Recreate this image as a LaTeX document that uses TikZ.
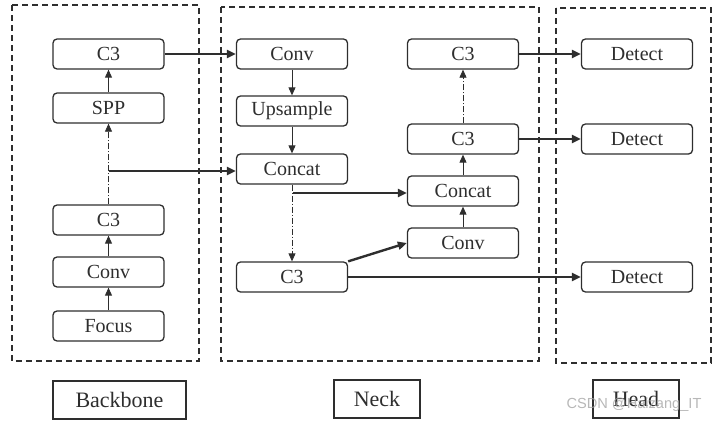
\documentclass[tikz,border=0pt]{standalone}
\usepackage{fontspec}
\setmainfont{Liberation Serif}
\newfontfamily\wmfont{Liberation Sans}
\usetikzlibrary{arrows.meta}
\definecolor{ink}{HTML}{2E2E2E}
\tikzset{
  blk/.style={draw=ink, line width=1.3pt, rounded corners=4pt, minimum width=111pt, minimum height=30pt, inner sep=0pt, text=ink, font=\fontsize{20}{24}\selectfont},
  lbl/.style={draw=ink, line width=1.2pt, minimum height=38pt, inner sep=0pt, text=ink, font=\fontsize{22}{26}\selectfont},
  region/.style={draw=ink, line width=1.3pt, dash pattern=on 6pt off 4pt},
  thin/.style={draw=ink, line width=0.9pt, -{Triangle[length=8pt,width=7pt]}},
  thick/.style={draw=ink, line width=2.4pt, -{Triangle[length=9pt,width=8pt]}},
  dd/.style={draw=ink, line width=0.8pt, dash pattern=on 6pt off 2pt on 1pt off 2pt, -{Triangle[length=8pt,width=7pt]}},
  ddn/.style={draw=ink, line width=0.8pt, dash pattern=on 6pt off 2pt on 1pt off 2pt}
}
\begin{document}
\begin{tikzpicture}[x=1pt,y=-1pt]
\useasboundingbox (0,0) rectangle (718,423);
% regions
\draw[region] (12,5) rectangle (199,361);
\draw[region] (221,7) rectangle (539,361);
\draw[region] (556,8) rectangle (711,363);
% backbone
\node[blk] (bc3top) at (108.5,54) {C3};
\node[blk] (spp) at (108.5,108) {SPP};
\node[blk] (bc3) at (108.5,220) {C3};
\node[blk] (bconv) at (108.5,272) {Conv};
\node[blk] (focus) at (108.5,326) {Focus};
% neck left
\node[blk] (nconv) at (292,54) {Conv};
\node[blk] (up) at (292,111) {Upsample};
\node[blk] (ncat) at (292,169) {Concat};
\node[blk] (nc3) at (292,277) {C3};
% neck right
\node[blk] (rc3top) at (463,54) {C3};
\node[blk] (rc3) at (463,139) {C3};
\node[blk] (rcat) at (463,191) {Concat};
\node[blk] (rconv) at (463,243) {Conv};
% head
\node[blk] (d1) at (637,54) {Detect};
\node[blk] (d2) at (637,139) {Detect};
\node[blk] (d3) at (637,277) {Detect};
% labels
\node[lbl, minimum width=133pt] (lb) at (119.5,400) {Backbone};
\node[lbl, minimum width=86pt] (ln) at (377,399) {Neck};
\node[lbl, minimum width=86pt] (lh) at (636,399) {Head};
% backbone connectors
\draw[thin] (focus) -- (bconv);
\draw[thin] (bconv) -- (bc3);
\draw[dd] (bc3.north) -- (spp.south);
\draw[thin] (spp) -- (bc3top);
\coordinate (bb) at (108.5,171);
\draw[thick] (bb) -- (bb -| ncat.west);
\draw[thick] (bc3top) -- (nconv);
% neck connectors
\draw[thin] (nconv) -- (up);
\draw[thin] (up) -- (ncat);
\draw[dd] (ncat.south) -- (nc3.north);
\coordinate (nb) at (293,193);
\draw[thick] (nb) -- (nb -| rcat.west);
\draw[thick] (nc3.north east) -- (rconv.west);
\draw[thin] (rconv) -- (rcat);
\draw[thin] (rcat) -- (rc3);
\draw[dd] (rc3.north) -- (rc3top.south);
% to head
\draw[thick] (rc3top) -- (d1);
\draw[thick] (rc3) -- (d2);
\draw[thick] (nc3) -- (d3);
% watermark
\node[text=gray!70, opacity=0.8, font=\wmfont\fontsize{14.6}{17}\selectfont, anchor=center] (wm) at (634,405) {CSDN @Haizang\_IT};
\end{tikzpicture}
\end{document}
